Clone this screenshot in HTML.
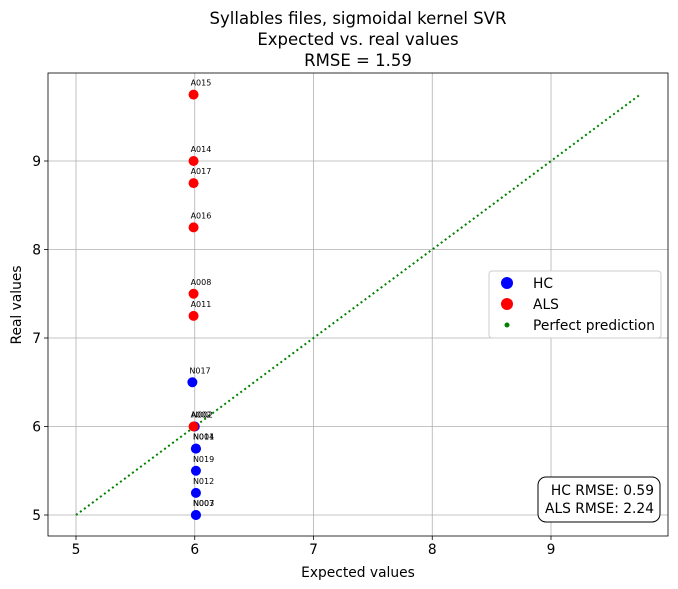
<!DOCTYPE html>
<html><head><meta charset="utf-8"><style>
html,body{margin:0;padding:0;background:#fff;}
svg{display:block;font-family:"DejaVu Sans","Liberation Sans",sans-serif;}
</style></head><body>
<svg id="chart" width="678" height="589" viewBox="0 0 678 589">
<g id="grid"></g>
<g id="axes"></g>
<g id="marks"></g>
<text x="358" y="24" text-anchor="middle" font-size="16.5">Syllables files, sigmoidal kernel SVR</text>
<text x="358" y="45" text-anchor="middle" font-size="16.5">Expected vs. real values</text>
<text x="358" y="66" text-anchor="middle" font-size="16.5">RMSE = 1.59</text>
<text x="358" y="577" text-anchor="middle" font-size="13.8">Expected values</text>
<text x="0" y="0" transform="translate(21,305) rotate(-90)" text-anchor="middle" font-size="13.8">Real values</text>
<g>
<rect x="489" y="271" width="172" height="67" rx="3" fill="#fff" stroke="#ccc"/>
<circle cx="507" cy="283" r="6" fill="#0000ff"/>
<text x="533" y="288" font-size="13.8">HC</text>
<circle cx="507" cy="304" r="6" fill="#ff0000"/>
<text x="533" y="309" font-size="13.8">ALS</text>
<circle cx="507" cy="325" r="2.5" fill="#008000"/>
<text x="533" y="330" font-size="13.8">Perfect prediction</text>
</g>
<g>
<rect x="538" y="477" width="122" height="45" rx="8" fill="#fff" stroke="#000"/>
<text x="654" y="495" text-anchor="end" font-size="13.8">HC RMSE: 0.59</text>
<text x="654" y="513" text-anchor="end" font-size="13.8">ALS RMSE: 2.24</text>
</g>
</svg>
<script>
const xTicks = [5,6,7,8,9];
const yTicks = [5,6,7,8,9];
const alsLabels = ["A015","A014","A017","A016","A008","A011","A002"];
const alsExpected = [5.99,5.99,5.99,5.99,5.99,5.99,5.99];
const alsReal = [9.75,9.0,8.75,8.25,7.5,7.25,6.0];
const hcLabels = ["N017","N002","N004","N011","N019","N012","N003","N007"];
const hcExpected = [5.98,6.0,6.01,6.01,6.01,6.01,6.01,6.01];
const hcReal = [6.5,6.0,5.75,5.75,5.5,5.25,5.0,5.0];
const perfectRange = [5,9.75];

const NS="http://www.w3.org/2000/svg";
const L=48,R=668,T=73,B=536;
const xs=v=>76+(v-5)*118.75;
const ys=v=>515-(v-5)*88.5;
function mk(tag,attrs,parent){const e=document.createElementNS(NS,tag);for(const k in attrs)e.setAttribute(k,attrs[k]);parent.appendChild(e);return e;}
const grid=document.getElementById('grid'),axes=document.getElementById('axes'),marks=document.getElementById('marks');
xTicks.forEach(t=>{
  const g=mk('line',{x1:xs(t),x2:xs(t),y1:T,y2:B,stroke:'#b0b0b0','stroke-width':0.8},grid);
  
  
  const k=mk('line',{x1:xs(t),x2:xs(t),y1:B,y2:B+4,stroke:'#000','stroke-width':0.8},axes);
  
  
  const tx=mk('text',{x:xs(t),y:B+18,'text-anchor':'middle','font-size':13.8},axes);
  tx.textContent=t;
  
  
});
yTicks.forEach(t=>{
  const g=mk('line',{x1:L,x2:R,y1:ys(t),y2:ys(t),stroke:'#b0b0b0','stroke-width':0.8},grid);
  
  
  const k=mk('line',{x1:L-4,x2:L,y1:ys(t),y2:ys(t),stroke:'#000','stroke-width':0.8},axes);
  
  
  const tx=mk('text',{x:L-7,y:ys(t)+5,'text-anchor':'end','font-size':13.8},axes);
  tx.textContent=t;
  
  
});
const frame=mk('rect',{x:L,y:T,width:R-L,height:B-T,fill:'none',stroke:'#000','stroke-width':0.8},axes);


const pl=mk('line',{x1:xs(perfectRange[0]),y1:ys(perfectRange[0]),x2:xs(perfectRange[1]),y2:ys(perfectRange[1]),stroke:'#008000','stroke-width':2,'stroke-dasharray':'2 3'},marks);


function series(lbls,ex,re,color,name){
  lbls.forEach((lb,i)=>{
    const c=mk('circle',{cx:xs(ex[i]),cy:ys(re[i]),r:5,fill:color},marks);
    
    
    const t=mk('text',{x:xs(ex[i])-3,y:ys(re[i])-9,'font-size':8,fill:'#000'},marks);
    t.textContent=lb;
    
    
  });
}
series(hcLabels,hcExpected,hcReal,'#0000ff','hc');
series(alsLabels,alsExpected,alsReal,'#ff0000','als');
</script>
</body></html>
